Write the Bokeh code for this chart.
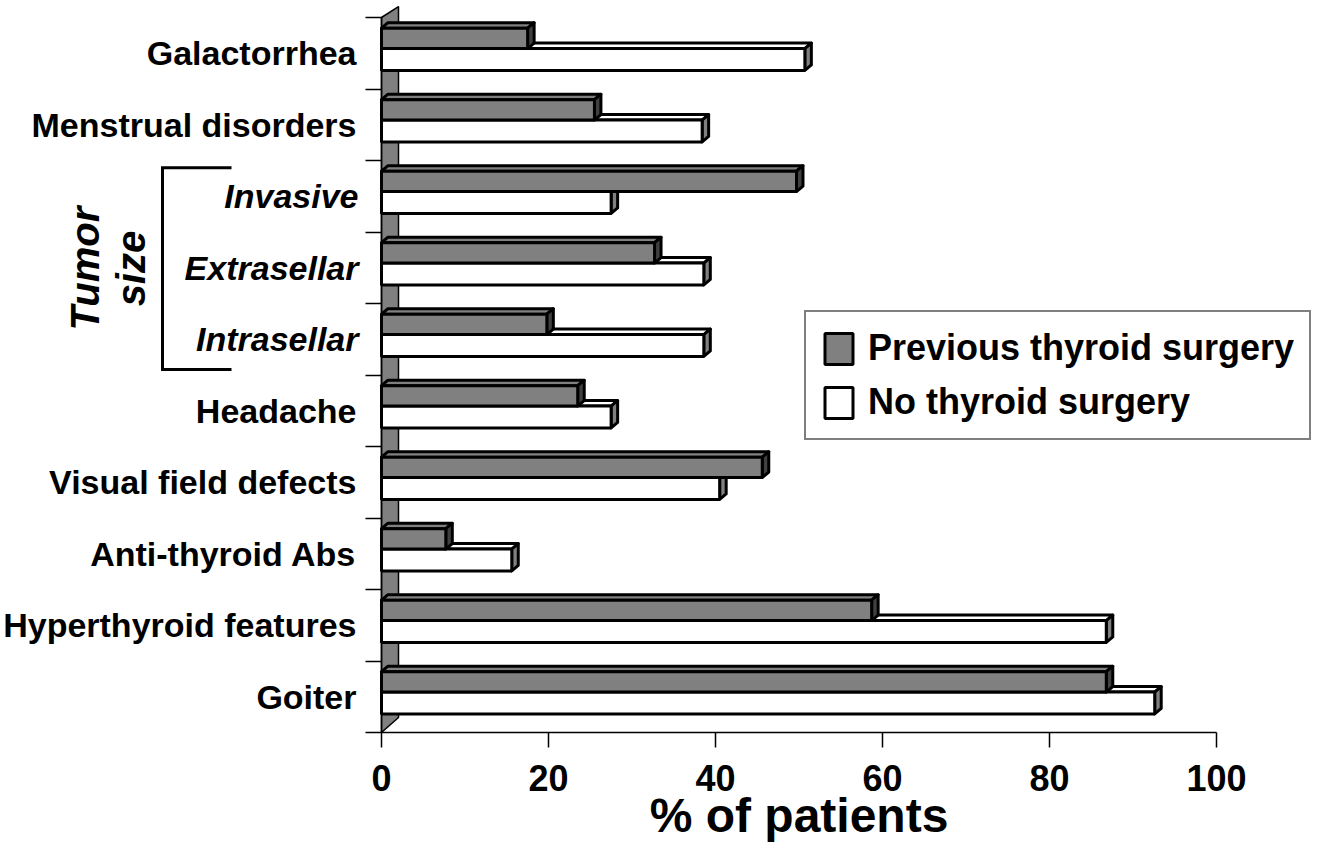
import math
from bokeh.plotting import figure
from bokeh.models import (Range1d, FixedTicker, LabelSet, Label, ColumnDataSource,
                          Legend, LegendItem)
from bokeh.core.properties import value
from bokeh.embed import file_html
from bokeh.resources import INLINE

# ---------------- data (bottom to top) ----------------
categories = ["Goiter", "Hyperthyroid features", "Anti-thyroid Abs", "Visual field defects",
              "Headache", "Intrasellar", "Extrasellar", "Invasive",
              "Menstrual disorders", "Galactorrhea"]
italic_flags = [False, False, False, False, False, True, True, True, False, False]
previous_surgery = [86.8, 58.7, 7.7, 45.6, 23.5, 19.8, 32.7, 49.7, 25.5, 17.5]
no_surgery = [92.6, 86.8, 15.6, 40.5, 27.5, 38.6, 38.6, 27.5, 38.4, 50.7]
x_ticks = [0, 20, 40, 60, 80, 100]
series_names = ["Previous thyroid surgery", "No thyroid surgery"]
group_words = ["Tumor", "size"]
group_span = (5.077, 7.9)          # rows bracketed by the "Tumor size" label
axis_title = "% of patients"

# ---------------- geometry / style ----------------
W, H = 1312, 851
X0, Y0 = 381, 732          # pixel position of data (0, 0)
PXX = 8.35                 # px per % unit
PXY = 71.5                 # px per category row
DX, DY = 6.5 / PXX, 5.5 / PXY          # 3-D depth of bars
WDX = 17 / PXX                          # wall depth
FONT = "Liberation Sans"
GRAY, DARK, WHITE = "#808080", "#404040", "#ffffff"

x_range = Range1d(-X0 / PXX, (W - X0) / PXX)
y_range = Range1d(-(H - Y0) / PXY, Y0 / PXY)

p = figure(width=W, height=H, x_range=x_range, y_range=y_range,
           output_backend="svg", toolbar_location=None,
           min_border_left=0, min_border_right=0, min_border_top=0, min_border_bottom=0)
p.xgrid.visible = False
p.ygrid.visible = False
p.outline_line_color = None
p.background_fill_color = "white"
p.border_fill_color = "white"

n = len(categories)

# x axis
xa = p.xaxis[0]
xa.fixed_location = 0
xa.bounds = (0, 100)
xa.ticker = FixedTicker(ticks=x_ticks)
xa.minor_tick_line_color = None
xa.major_tick_out = 15
xa.major_tick_in = 0
xa.major_tick_line_width = 1.5
xa.axis_line_width = 1.5
xa.major_label_standoff = 17
xa.major_label_text_font = FONT
xa.major_label_text_font_style = "bold"
xa.major_label_text_font_size = "36px"
xa.major_label_text_color = "black"
xa.axis_label = axis_title
xa.axis_label_text_font = FONT
xa.axis_label_text_font_style = "bold"
xa.axis_label_text_font_size = "48px"
xa.axis_label_standoff = -5
xa.axis_label_text_color = "black"

# y axis (row boundary ticks only)
ya = p.yaxis[0]
ya.fixed_location = 0
ya.ticker = FixedTicker(ticks=list(range(n + 1)))
ya.bounds = (0, n)
ya.minor_tick_line_color = None
ya.major_tick_out = 16
ya.major_tick_in = 0
ya.major_tick_line_width = 1.5
ya.axis_line_width = 1.5
ya.major_label_text_font_size = "0px"
ya.major_label_overrides = {i: "" for i in range(n + 1)}

# back wall
p.patch(x=[0, 0, WDX, WDX], y=[0, n, n + 0.153, 0.21],
        fill_color=GRAY, line_color="black", line_width=1.5)

# bar geometry
idx = list(range(n))
w_bot = [i + 0.26 for i in idx]
w_top = [i + 0.565 for i in idx]
g_bot = w_top
g_top = [i + 0.85 for i in idx]


def faces(vals, bots, tops):
    top_xs, top_ys, side_xs, side_ys = [], [], [], []
    for v, b, t in zip(vals, bots, tops):
        top_xs.append([0, v, v + DX, DX])
        top_ys.append([t, t, t + DY, t + DY])
        side_xs.append([v, v + DX, v + DX, v])
        side_ys.append([b, b + DY, t + DY, t])
    return top_xs, top_ys, side_xs, side_ys


LW = 3
# white series first (behind)
txs, tys, sxs, sys_ = faces(no_surgery, w_bot, w_top)
p.patches(txs, tys, fill_color=WHITE, line_color="black", line_width=LW, line_join="round")
p.patches(sxs, sys_, fill_color=GRAY, line_color="black", line_width=LW, line_join="round")
white_front = p.quad(left=0, right=no_surgery, bottom=w_bot, top=w_top,
                     fill_color=WHITE, line_color="black", line_width=LW)
# gray series
txs, tys, sxs, sys_ = faces(previous_surgery, g_bot, g_top)
p.patches(txs, tys, fill_color=GRAY, line_color="black", line_width=LW, line_join="round")
p.patches(sxs, sys_, fill_color=DARK, line_color="black", line_width=LW, line_join="round")
gray_front = p.quad(left=0, right=previous_surgery, bottom=g_bot, top=g_top,
                    fill_color=GRAY, line_color="black", line_width=LW)

# category labels
norm = [(i + 0.5, c) for i, (c, it) in enumerate(zip(categories, italic_flags)) if not it]
ital = [(i + 0.5, c) for i, (c, it) in enumerate(zip(categories, italic_flags)) if it]
src_n = ColumnDataSource(dict(x=[0] * len(norm), y=[a for a, _ in norm], text=[b for _, b in norm]))
src_i = ColumnDataSource(dict(x=[0] * len(ital), y=[a for a, _ in ital], text=[b for _, b in ital]))
p.add_layout(LabelSet(x="x", y="y", text="text", source=src_n, x_offset=-25,
                      text_align="right", text_baseline="middle",
                      text_font=value(FONT), text_font_style="bold",
                      text_font_size="34px", text_color="black"))
p.add_layout(LabelSet(x="x", y="y", text="text", source=src_i, x_offset=-23,
                      text_align="right", text_baseline="middle",
                      text_font=value(FONT), text_font_style="bold italic",
                      text_font_size="34px", text_color="black"))

# "Tumor size" group label and bracket
gy = sum(group_span) / 2
p.add_layout(Label(x=0, y=gy, x_offset=-297, text=group_words[0], angle=math.pi / 2,
                   text_align="center", text_baseline="alphabetic",
                   text_font=FONT, text_font_style="bold italic", text_font_size="40px",
                   text_color="black"))
p.add_layout(Label(x=0, y=gy, x_offset=-251, text=group_words[1], angle=math.pi / 2,
                   text_align="center", text_baseline="alphabetic",
                   text_font=FONT, text_font_style="bold italic", text_font_size="40px",
                   text_color="black"))
bx_v = -219 / PXX
bx_h = -150 / PXX
p.multi_line(xs=[[bx_h, bx_v, bx_v, bx_h]], ys=[[group_span[1], group_span[1], group_span[0], group_span[0]]],
             line_color="black", line_width=3, line_join="miter")

# legend
legend = Legend(items=[LegendItem(label=series_names[0], renderers=[gray_front]),
                       LegendItem(label=series_names[1], renderers=[white_front])],
                location=(804, 411), margin=0, padding=15, spacing=12,
                glyph_width=35, glyph_height=39, label_standoff=12,
                label_text_font=FONT, label_text_font_style="bold",
                label_text_font_size="36px", label_text_color="black",
                border_line_color="black", border_line_width=2,
                background_fill_color="white", background_fill_alpha=1)
p.add_layout(legend)

open("out.html", "w").write(file_html(p, INLINE))
